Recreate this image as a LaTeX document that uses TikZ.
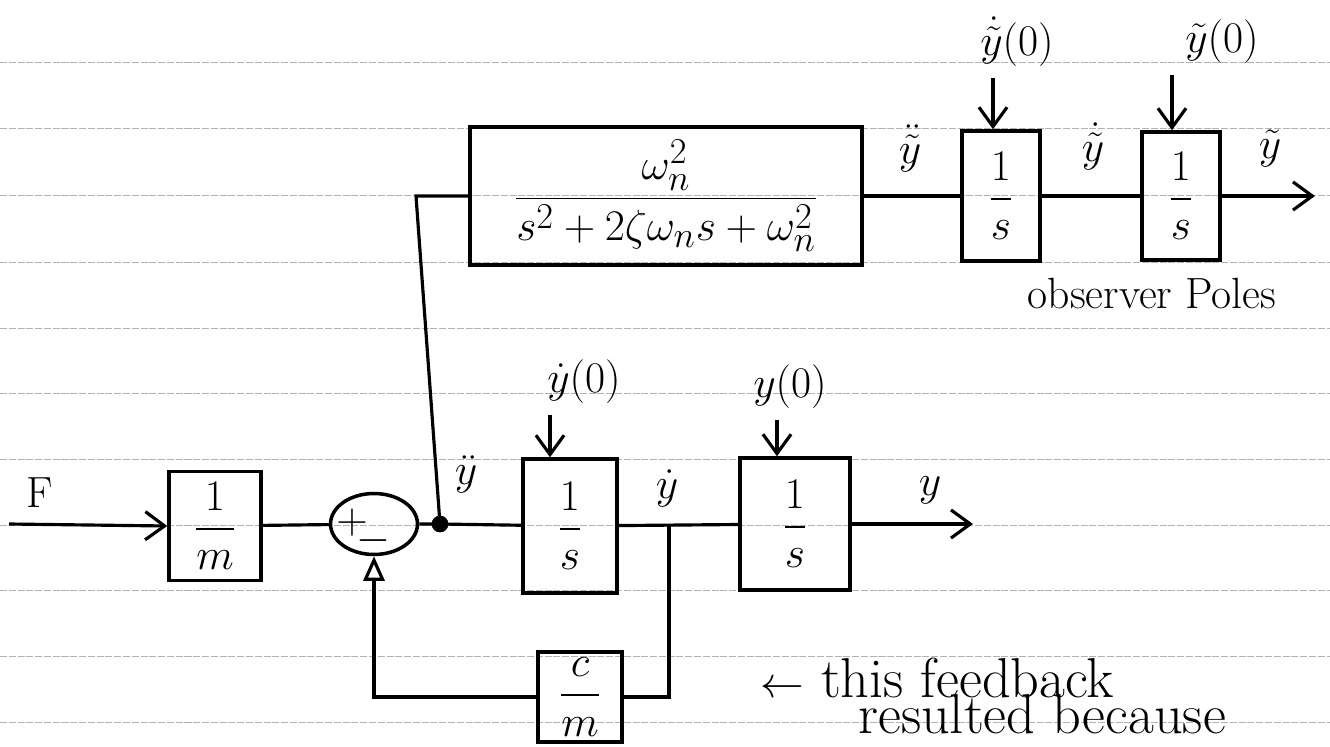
\documentclass[tikz,border=0pt]{standalone}
\usepackage{amsmath}
\usepackage{fontspec}
\usetikzlibrary{arrows.meta,shapes,positioning,calc}
\tikzset{
    block/.style={draw,line width=2pt,align=center,inner sep=2pt,font=\Huge},
    line/.style={-,line width=1.8pt},
    arrline/.style={-{Straight Barb[length=11pt,width=16pt,line width=1.8pt]},line width=1.8pt},
    fbarrow/.style={-{Triangle[open,length=14pt,width=12pt,line width=1.8pt]},line width=1.8pt},
    dot/.style = {draw,fill,circle,inner sep=0pt,outer sep=0pt,minimum size=0.32cm},
    sumell/.style={draw,ellipse,line width=2pt,minimum width=1.74cm,minimum height=1.22cm,inner sep=0pt},
    ruled/.style={gray!60,line width=0.5pt,dash pattern=on 4pt off 1pt},
    lbl/.style={font=\Huge,inner sep=0pt},
    note/.style={font=\fontsize{32}{38}\selectfont,inner sep=0pt,anchor=west},
}
\begin{document}
\begin{tikzpicture}[x=0.02cm,y=-0.02cm]
\useasboundingbox (0,0) rectangle (1330,747);
% ruled page
\foreach \ry in {62,128,195,262,328,393,459,525,590,656,722}
    \draw[ruled] (0,\ry) -- (1330,\ry);

% observer row
\node[block,minimum width=7.84cm,minimum height=2.76cm] (G) at (666,196) {$\displaystyle\frac{\omega_n^2}{s^2+2\zeta\omega_n s+\omega_n^2}$};
\node[block,minimum width=1.56cm,minimum height=2.6cm] (I1) at (1001,196) {$\displaystyle\frac{1}{s}$};
\node[block,minimum width=1.56cm,minimum height=2.56cm] (I2) at (1181,196) {$\displaystyle\frac{1}{s}$};
\coordinate (yt out) at (1315,196);
\node[lbl] (ddyt) at (910,148) {$\ddot{\tilde{y}}$};
\node[lbl] (dyt) at (1093,146) {$\dot{\tilde{y}}$};
\node[lbl] (yt) at (1270,148) {$\tilde{y}$};
\node[lbl] (dyt0) at (1017,42) {$\dot{\tilde{y}}(0)$};
\node[lbl] (yt0) at (1222,42) {$\tilde{y}(0)$};
\node[lbl] (poles) at (1152,294) {observer Poles};
\coordinate (dyt0 tip) at ($(I1.north)+(-8,0)$);
\coordinate (yt0 tip) at ($(I2.north)+(-9,0)$);
\draw[arrline,shorten <=6pt] (dyt0 tip |- dyt0.south) -- (dyt0 tip);
\draw[arrline,shorten <=6pt] (yt0 tip |- yt0.south) -- (yt0 tip);
\draw[line] (G.east) -- (I1.west);
\draw[line] (I1) -- (I2);
\draw[arrline] (I2) -- (yt out);

% plant row
\node[lbl] (F) at (40,493) {F};
\coordinate (F in) at (9,524);
\node[block,minimum width=1.84cm,minimum height=2.18cm] (M) at (215,526) {$\displaystyle\frac{1}{m}$};
\node[sumell] (S) at (374,524) {};
\node[lbl] (plus) at (352,523) {$+$};
\node[lbl] (minus) at (373,541) {$-$};
\node[dot] (J) at (440,524) {};
\coordinate (tap) at (416,196);
\node[block,minimum width=1.88cm,minimum height=2.68cm] (L1) at (570,526) {$\displaystyle\frac{1}{s}$};
\node[block,minimum width=2.2cm,minimum height=2.64cm] (L2) at (795,524) {$\displaystyle\frac{1}{s}$};
\coordinate (y out) at (973,524);
\coordinate (B) at (669,524);
\node[block,minimum width=1.68cm,minimum height=1.8cm] (CM) at (580,697) {$\displaystyle\frac{c}{m}$};
\node[lbl] (ddy) at (466,474) {$\ddot{y}$};
\node[lbl] (dy) at (667,488) {$\dot{y}$};
\node[lbl] (ylbl) at (930,490) {$y$};
\node[lbl] (dy0) at (584,382) {$\dot{y}(0)$};
\node[lbl] (y0) at (790,387) {$y(0)$};
\coordinate (dy0 tip) at ($(L1.north)+(-20,0)$);
\coordinate (y0 tip) at ($(L2.north)+(-18,0)$);
\draw[arrline,shorten <=6pt] (dy0 tip |- dy0.south) -- (dy0 tip);
\draw[arrline,shorten <=6pt] (y0 tip |- y0.south) -- (y0 tip);
\draw[arrline] (F in) -- (M.west);
\draw[line] (M) -- (S);
\draw[line] (S) -- (J) -- (L1);
\draw[line] (J) -- (tap) -- (G.west);
\draw[line] (L1) -- (L2);
\draw[arrline] (L2) -- (y out);
\draw[line] (B) |- (CM.east);
\draw[fbarrow] (CM.west) -| (S.south);

% note
\node[note] (note1) at (760,678) {{\Huge$\leftarrow$}\ this feedback};
\node[note] (note2) at (858,714) {resulted because};
\end{tikzpicture}
\end{document}
